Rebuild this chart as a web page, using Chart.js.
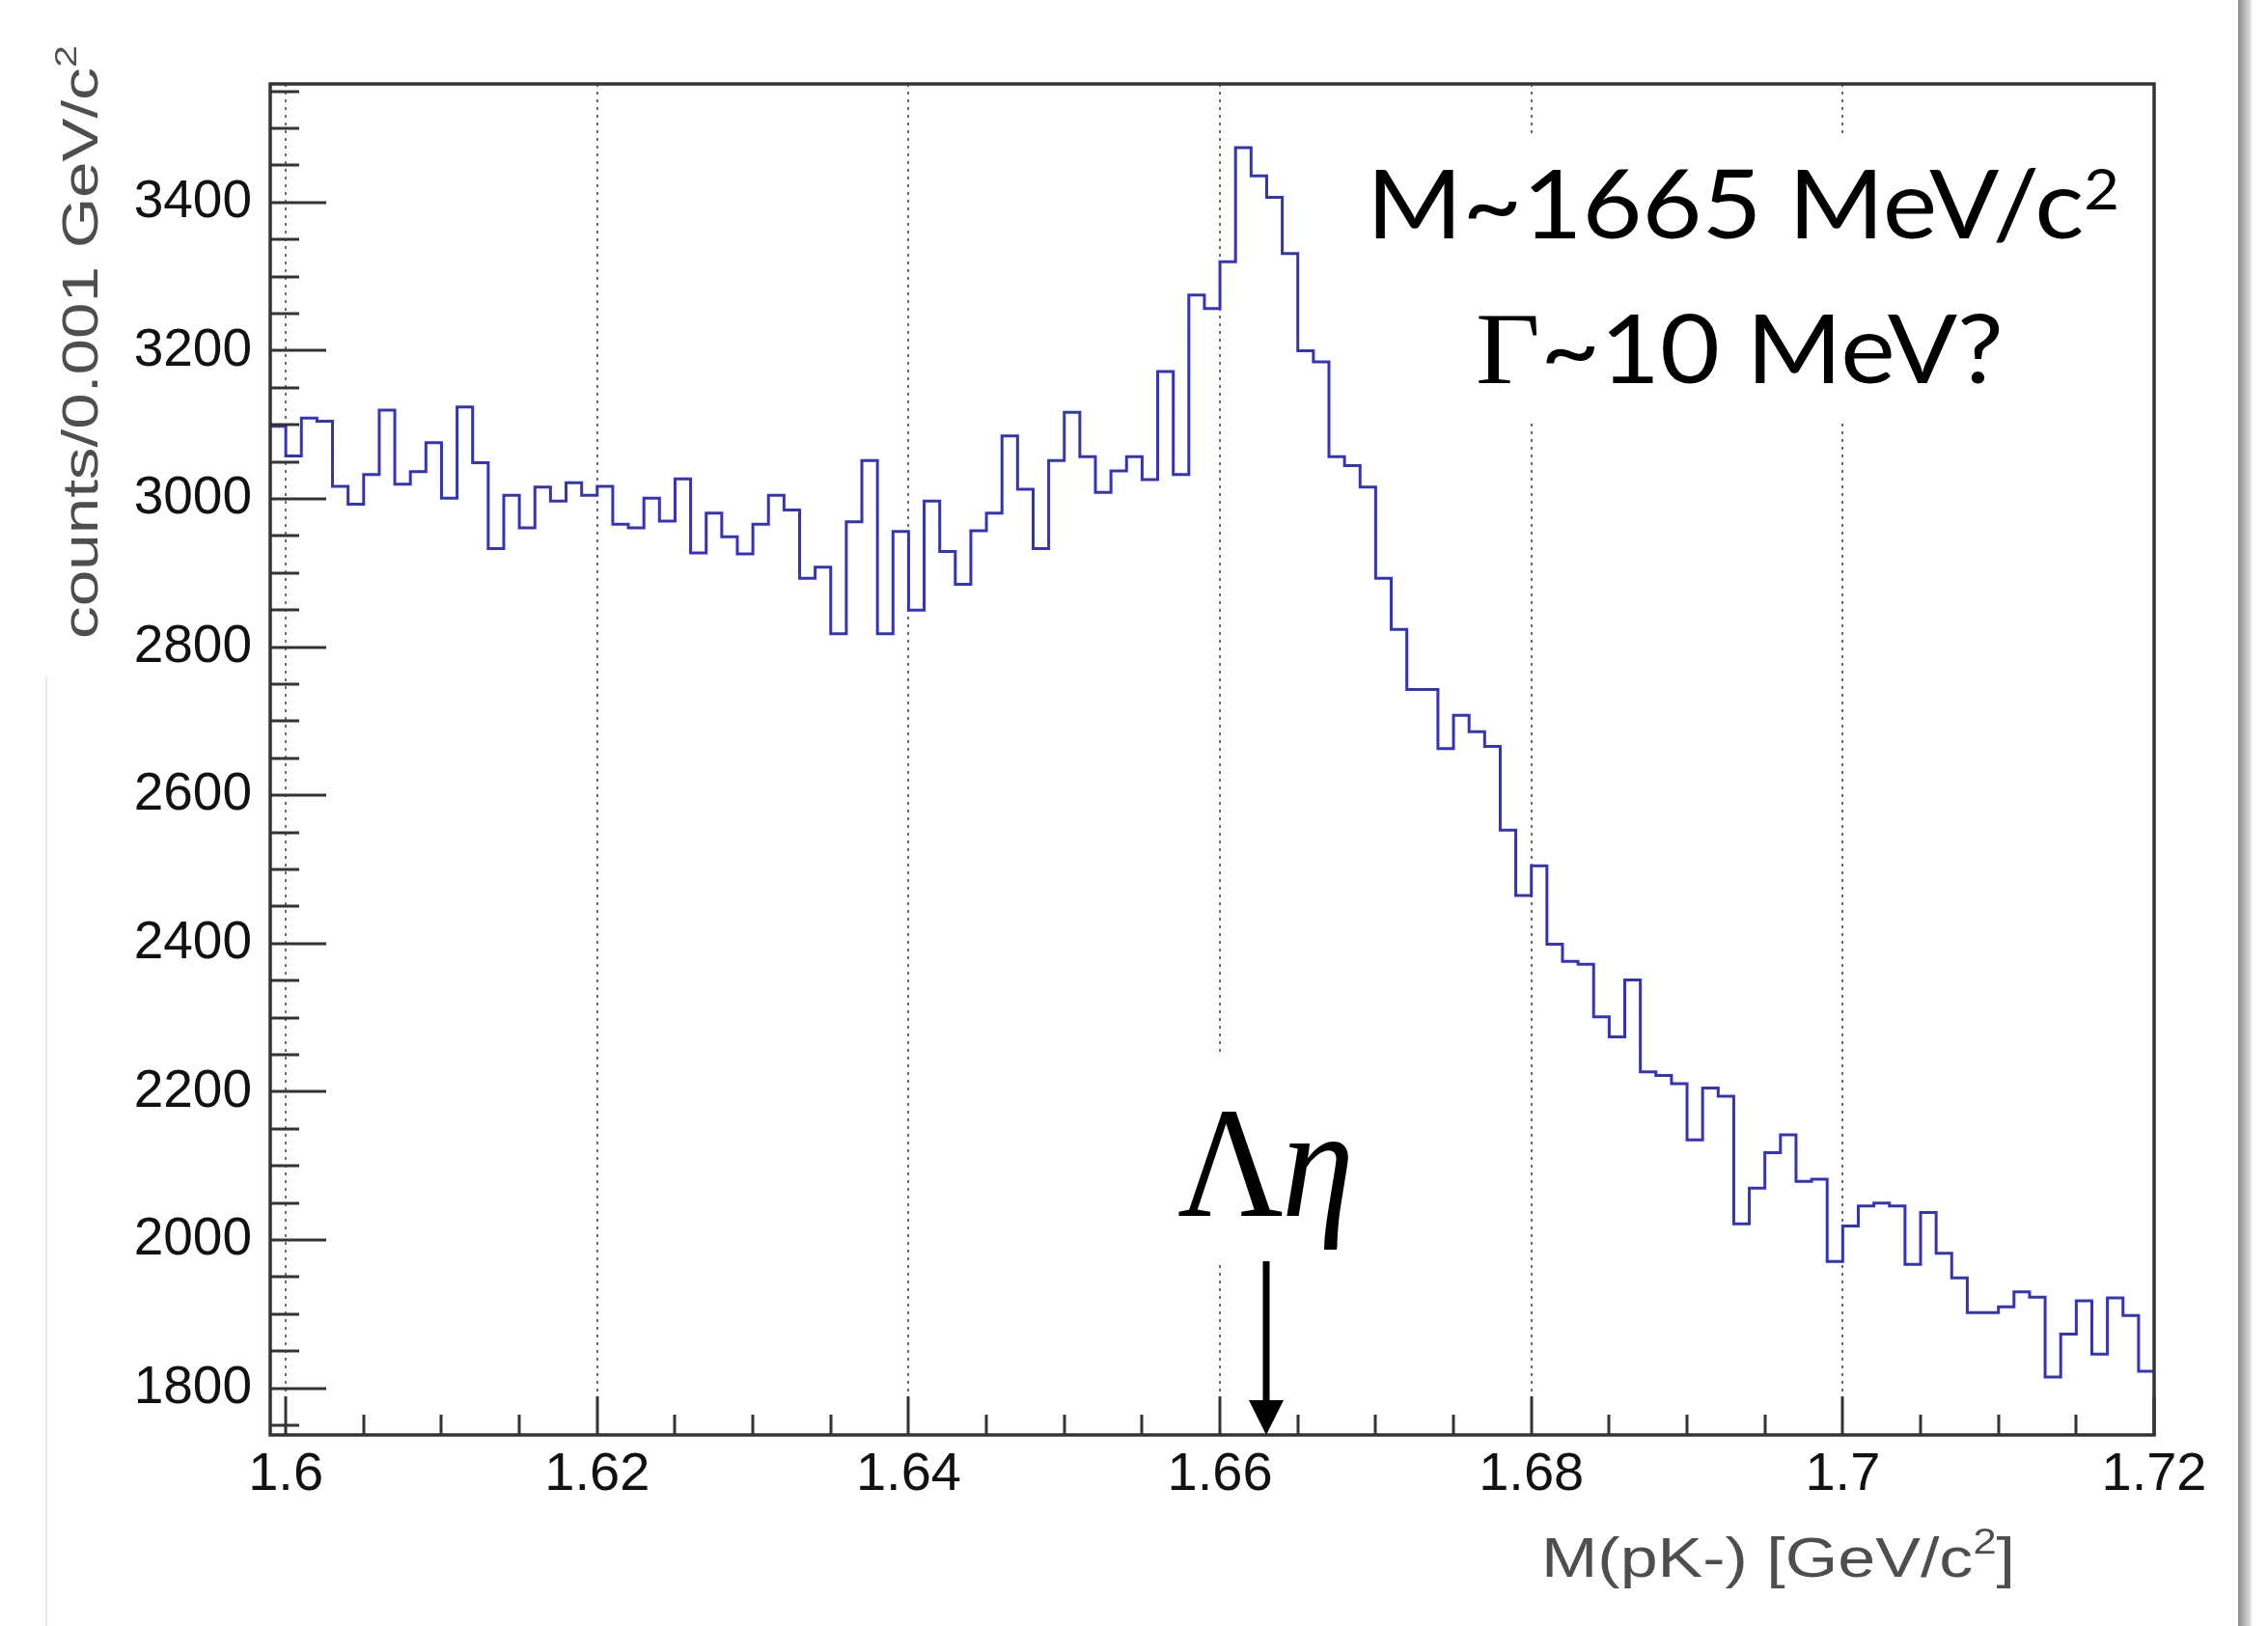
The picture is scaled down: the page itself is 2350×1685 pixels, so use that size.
<!DOCTYPE html>
<html>
<head>
<meta charset="utf-8">
<title>M(pK-) spectrum</title>
<script src="https://cdn.jsdelivr.net/npm/chart.js@4.4.1/dist/chart.umd.min.js"></script>
<style>
  html, body { margin: 0; padding: 0; background: #fff; }
  canvas { display: block; }
</style>
</head>
<body>
<canvas id="spectrum" width="2350" height="1685"></canvas>
<script>
// histogram binning: 1 MeV bins, first bin starts at 1.599 GeV
const binStart = 1.599;
const binWidth = 0.001;
const counts = [
  3098, 3058, 3109, 3105, 3017, 2993, 3033, 3120, 3020, 3037,
  3076, 3001, 3124, 3049, 2933, 3005, 2961, 3016, 2997, 3022,
  3005, 3017, 2966, 2961, 3001, 2970, 3027, 2927, 2981, 2949,
  2926, 2966, 3005, 2985, 2893, 2908, 2818, 2969, 3052, 2818,
  2956, 2850, 2997, 2929, 2885, 2957, 2981, 3085, 3013, 2933,
  3052, 3117, 3057, 3009, 3038, 3057, 3026, 3172, 3033, 3275,
  3257, 3320, 3474, 3436, 3407, 3331, 3200, 3185, 3057, 3045,
  3016, 2893, 2824, 2743, 2743, 2663, 2708, 2686, 2666, 2553,
  2465, 2505, 2399, 2376, 2372, 2301, 2274, 2351, 2227, 2222,
  2211, 2135, 2205, 2194, 2022, 2070, 2118, 2142, 2079, 2082,
  1971, 2019, 2046, 2050, 2046, 1967, 2037, 1982, 1949, 1902,
  1902, 1910, 1930, 1923, 1815, 1873, 1918, 1846, 1922, 1898,
  1823
];
const xTicks = [1.6, 1.62, 1.64, 1.66, 1.68, 1.7, 1.72];
const xTickLabels = ['1.6', '1.62', '1.64', '1.66', '1.68', '1.7', '1.72'];
const yTicks = [1800, 2000, 2200, 2400, 2600, 2800, 3000, 3200, 3400];
const xRange = [1.599, 1.72];
const yRange = [1737, 3560];
const lambdaEtaThreshold = 1.663;

// step outline: one point per bin lower edge plus the closing upper edge
const points = counts.map((c, i) => ({ x: binStart + i * binWidth, y: c }));
points.push({ x: binStart + counts.length * binWidth, y: counts[counts.length - 1] });

const labelFont = "'Liberation Sans', Arial, sans-serif";
const noteFont = "Lato, 'Open Sans', sans-serif";
const serifFont = "'Liberation Serif', 'DejaVu Serif', serif";

// draws a row of text runs, optionally squeezed/stretched to a given width
function drawRuns(ctx, runs, x, y, width) {
  let total = 0;
  for (const r of runs) {
    ctx.font = r.font;
    r.w = ctx.measureText(r.t).width;
    total += r.w + (r.gap || 0);
  }
  const sx = width ? width / total : 1;
  ctx.save();
  ctx.translate(x, y);
  ctx.scale(sx, 1);
  let cx = 0;
  for (const r of runs) {
    ctx.font = r.font;
    ctx.fillText(r.t, cx, r.dy || 0);
    cx += r.w + (r.gap || 0);
  }
  ctx.restore();
}

const rootStyle = {
  id: 'rootStyle',
  beforeDatasetsDraw(chart) {
    // the annotation panes are opaque and hide the grid behind them
    const { ctx } = chart;
    ctx.save();
    ctx.fillStyle = '#fff';
    ctx.fillRect(1400, 142, 825, 296);
    ctx.fillRect(1200, 1091, 225, 216);
    ctx.restore();
  },
  afterDatasetsDraw(chart) {
    const { ctx, chartArea: a, scales: { x, y } } = chart;
    ctx.save();
    ctx.strokeStyle = '#333';
    ctx.lineWidth = 3;
    ctx.beginPath();
    // x ticks every 5 MeV, long ones at the labels
    for (let k = 0; k <= 24; k++) {
      const px = Math.round(x.getPixelForValue(1.6 + k * 0.005));
      const len = k % 4 === 0 ? 40 : 21;
      ctx.moveTo(px, a.bottom);
      ctx.lineTo(px, a.bottom - len);
    }
    // y ticks every 50 counts, long ones every 200
    for (let v = 1750; v <= 3550; v += 50) {
      const py = Math.round(y.getPixelForValue(v));
      const len = v % 200 === 0 ? 58 : 30;
      ctx.moveTo(a.left, py);
      ctx.lineTo(a.left + len, py);
    }
    ctx.stroke();
    ctx.lineWidth = 3.5;
    ctx.strokeRect(a.left, a.top, a.right - a.left, a.bottom - a.top);
    ctx.restore();
  },
  afterDraw(chart) {
    const { ctx, chartArea: a, scales: { x } } = chart;
    ctx.save();
    ctx.textBaseline = 'alphabetic';

    // axis titles
    ctx.fillStyle = '#4e4e4e';
    drawRuns(ctx, [
      { t: 'M(pK-) [GeV/c', font: `58px ${labelFont}` },
      { t: '2', font: `36px ${labelFont}`, dy: -24 },
      { t: ']', font: `58px ${labelFont}` }
    ], 1597, 1634, 491);
    ctx.save();
    ctx.translate(101, 662);
    ctx.rotate(-Math.PI / 2);
    drawRuns(ctx, [
      { t: 'counts/0.001 GeV/c', font: `52px ${labelFont}` },
      { t: '2', font: `32px ${labelFont}`, dy: -22 }
    ], 0, 0, 615);
    ctx.restore();

    // mass and width note
    ctx.fillStyle = '#000';
    drawRuns(ctx, [
      { t: 'M~1665 MeV/c', font: `98px ${noteFont}` },
      { t: '2', font: `58px ${noteFont}`, dy: -30 }
    ], 1416, 247, 780);
    drawRuns(ctx, [
      { t: '\u0393', font: `106px ${serifFont}` },
      { t: '~10 MeV?', font: `98px ${noteFont}` }
    ], 1529, 397, 547);

    // Lambda-eta threshold marker
    drawRuns(ctx, [
      { t: '\u039B', font: `163px ${serifFont}`, gap: -2 },
      { t: '\u03B7', font: `italic 163px ${serifFont}` }
    ], 1220, 1260, 183);
    const ax = Math.round(x.getPixelForValue(lambdaEtaThreshold));
    ctx.strokeStyle = '#000';
    ctx.lineWidth = 7;
    ctx.beginPath();
    ctx.moveTo(ax, 1307);
    ctx.lineTo(ax, a.bottom - 30);
    ctx.stroke();
    ctx.beginPath();
    ctx.moveTo(ax - 18, a.bottom - 36);
    ctx.lineTo(ax + 18, a.bottom - 36);
    ctx.lineTo(ax, a.bottom);
    ctx.closePath();
    ctx.fill();

    // window edges of the captured canvas
    const g = ctx.createLinearGradient(2319, 0, 2333, 0);
    g.addColorStop(0, '#8a8a8a');
    g.addColorStop(1, '#e8e8e8');
    ctx.fillStyle = g;
    ctx.fillRect(2319, 0, 14, 1685);
    ctx.fillStyle = '#ececec';
    ctx.fillRect(47, 700, 2, 985);
    ctx.restore();
  }
};

new Chart(document.getElementById('spectrum'), {
  type: 'line',
  data: {
    datasets: [{
      data: points,
      stepped: 'before',
      borderColor: '#3434b8',
      borderWidth: 3,
      pointRadius: 0,
      fill: false,
      tension: 0
    }]
  },
  options: {
    responsive: false,
    animation: false,
    devicePixelRatio: 1,
    layout: { padding: { top: 87, right: 118, left: 0, bottom: 0 } },
    plugins: { legend: { display: false }, tooltip: { enabled: false } },
    scales: {
      x: {
        type: 'linear',
        min: xRange[0],
        max: xRange[1],
        afterBuildTicks: s => { s.ticks = xTicks.map(v => ({ value: v })); },
        afterFit: s => { s.height = 198; },
        ticks: {
          autoSkip: false,
          maxRotation: 0,
          padding: 8,
          color: '#111',
          font: { family: labelFont, size: 56 },
          callback: (v, i) => xTickLabels[i]
        },
        grid: { color: '#6a6a6a', lineWidth: 2, drawTicks: false },
        border: { display: false, dash: [3, 5] }
      },
      y: {
        min: yRange[0],
        max: yRange[1],
        afterBuildTicks: s => { s.ticks = yTicks.map(v => ({ value: v })); },
        afterFit: s => { s.width = 280; },
        ticks: {
          padding: 19,
          color: '#111',
          font: { family: labelFont, size: 55 },
          callback: v => String(v)
        },
        grid: { display: false, drawTicks: false },
        border: { display: false }
      }
    }
  },
  plugins: [rootStyle]
});
</script>
</body>
</html>
